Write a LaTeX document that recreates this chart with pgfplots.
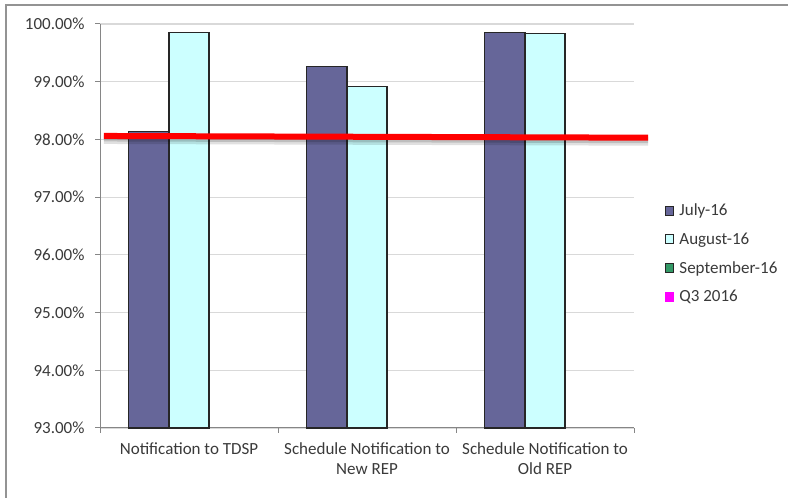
\documentclass[border=0pt]{standalone}
\usepackage{pgfplots}
\pgfplotsset{compat=1.18}
\usepackage{fontspec}
\setmainfont{Carlito}
\definecolor{julyc}{HTML}{666699}
\definecolor{augc}{HTML}{CCFFFF}
\definecolor{sepc}{HTML}{339966}
\definecolor{q3c}{HTML}{FF00FF}
\definecolor{txt}{HTML}{3A3A3A}
\definecolor{gridc}{HTML}{D9D9D9}
\definecolor{axc}{HTML}{868686}
\newcommand\cf{\fontsize{17bp}{20bp}\selectfont}
\pgfplotsset{sqlegend/.style={legend image code/.code={\draw[##1,line width=0.9bp] (0bp,-4.5bp) rectangle (8.5bp,4.5bp); \path (11.5bp,0bp);}}}
\begin{document}
\begin{tikzpicture}[x=1bp,y=1bp]
\useasboundingbox (0,0) rectangle (788,498);
\fill[white] (0,0) rectangle (788,498);
\draw[line width=1.6bp, draw=gray!85] (6,0) -- (6,493) -- (788,493);
\begin{axis}[
  at={(100bp,70bp)}, anchor=south west,
  scale only axis, width=534bp, height=404bp,
  clip=false,
  xmin=-0.5, xmax=2.5, ymin=0, ymax=7,
  y filter/.expression={y-93},
  axis x line*=bottom, axis y line*=left,
  axis line style={draw=axc, line width=1bp, -},
  tick align=outside, major tick length=5bp,
  tick style={draw=axc, line width=1bp},
  xtick={-0.5,0.5,1.5,2.5},
  x tick label as interval,
  xticklabels={{Notification to TDSP},{Schedule Notification to\\New REP},{Schedule Notification to\\Old REP}},
  xticklabel style={align=center, font=\cf, text=txt, yshift=-6bp},
  ytick={0,1,2,3,4,5,6,7},
  yticklabel={\pgfmathparse{\tick+93}\pgfmathprintnumber[fixed,fixed zerofill,precision=2]{\pgfmathresult}\%},
  yticklabel style={font=\cf, text=txt, xshift=-7bp},
  /pgf/number format/assume math mode=true,
  ymajorgrids, grid style={draw=gridc, line width=1.2bp},
  legend style={at={(axis description cs:1.052,0.432)}, anchor=west, draw=none, fill=none,
    font=\cf, text=txt, row sep=11.5bp, legend cell align=left},
]
\addplot[ybar, bar width=0.225, bar shift=-0.225, fill=julyc, draw=black!85, line width=1.1bp, sqlegend]
  coordinates {(0,98.13) (1,99.27) (2,99.86)};
\addlegendentry{July-16}
\addplot[ybar, bar width=0.225, bar shift=0, fill=augc, draw=black!85, line width=1.1bp, sqlegend]
  coordinates {(0,99.86) (1,98.91) (2,99.83)};
\addlegendentry{August-16}
\addlegendimage{sqlegend, fill=sepc, draw=black!85}
\addlegendentry{September-16}
\addlegendimage{sqlegend, fill=q3c, draw=q3c}
\addlegendentry{Q3 2016}
\addplot[forget plot, draw=black, opacity=0.12, line width=9bp, yshift=-3.5bp]
  coordinates {(-0.478,98.06) (2.579,98.03)};
\addplot[forget plot, draw=black, opacity=0.15, line width=6bp, yshift=-2.5bp]
  coordinates {(-0.478,98.06) (2.579,98.03)};
\addplot[forget plot, draw=red, line width=6bp]
  coordinates {(-0.478,98.06) (2.579,98.03)};
\end{axis}
\end{tikzpicture}
\end{document}
